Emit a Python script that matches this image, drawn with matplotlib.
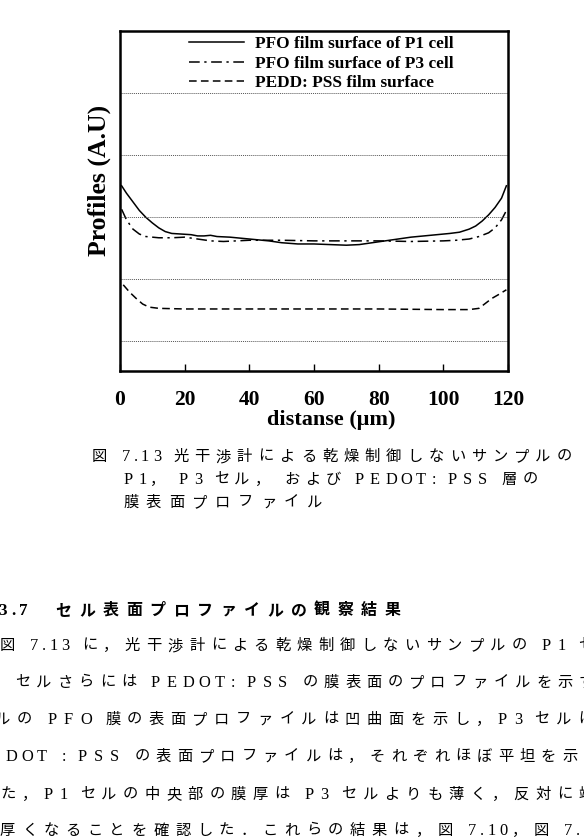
import numpy as np
import matplotlib
matplotlib.use('Agg')
import matplotlib.pyplot as plt

# profile data
x_p1 = [0.5, 2, 4, 6, 8, 10, 12, 14, 16, 19, 22, 24, 26, 28, 30, 34, 38, 42, 46, 50,
        55, 60, 65, 70, 74, 78, 82, 86, 90, 94, 98, 102, 105, 108, 110, 112, 114, 116, 118, 119.5]
y_p1 = [2.5, 2.38, 2.24, 2.1, 1.99, 1.9, 1.82, 1.76, 1.73, 1.72, 1.71, 1.69, 1.69, 1.7, 1.68, 1.67, 1.65, 1.63, 1.61, 1.58,
        1.56, 1.56, 1.55, 1.54, 1.55, 1.58, 1.61, 1.64, 1.67, 1.69, 1.71, 1.73, 1.75, 1.8, 1.85, 1.93, 2.03, 2.15, 2.3, 2.5]

x_p3 = [0.5, 2, 4, 6, 8, 12, 16, 20, 24, 28, 32, 36, 40, 50, 60, 70, 80, 90, 100, 104, 108, 111, 114, 116, 118, 119.5]
y_p3 = [2.12, 1.95, 1.8, 1.72, 1.68, 1.66, 1.66, 1.67, 1.64, 1.61, 1.6, 1.61, 1.62, 1.62, 1.61, 1.61, 1.61, 1.6, 1.61, 1.62,
        1.64, 1.68, 1.74, 1.82, 1.95, 2.1]

x_pe = [1, 3, 5, 7, 9, 12, 20, 40, 60, 80, 100, 108, 111, 113, 115, 117, 119.5]
y_pe = [0.9, 0.78, 0.68, 0.59, 0.54, 0.52, 0.51, 0.51, 0.51, 0.51, 0.5, 0.5, 0.52, 0.6, 0.68, 0.74, 0.82]

labels = ['PFO film surface of P1 cell', 'PFO film surface of P3 cell', 'PEDD: PSS film surface']
xticks = [0, 20, 40, 60, 80, 100, 120]
grid_y = [0, 1, 2, 3, 4]

caption = [
    (92, 578, 457, '図 7.13 光干渉計による乾燥制御しないサンプルの'),
    (123, 543, 480, 'P1， P3 セル， および PEDOT: PSS 層の'),
    (123, 330, 503, '膜表面プロファイル'),
]
heading = (-2, 408, 611, '3.7　セル表面プロファイルの観察結果')
body = [
    (0, 600, 646, '図 7.13 に，光干渉計による乾燥制御しないサンプルの P1 セ'),
    (15, 600, 683, 'セルさらには PEDOT: PSS の膜表面のプロファイルを示す'),
    (-5, 600, 720, 'ルの PFO 膜の表面プロファイルは凹曲面を示し，P3 セルは'),
    (5, 605, 757, 'DOT : PSS の表面プロファイルは，それぞれほぼ平坦を示し'),
    (0, 600, 795, 'た，P1 セルの中央部の膜厚は P3 セルよりも薄く，反対に端'),
    (0, 596, 831, '厚くなることを確認した．これらの結果は，図 7.10，図 7.1'),
]

W, H = 584, 838
fig = plt.figure(figsize=(W / 100, H / 100), dpi=100)
ax = fig.add_axes([120 / W, 1 - 371.5 / H, 388 / W, 340.5 / H])

ax.plot(x_p1, y_p1, color='black', lw=1.1, label=labels[0])
ax.plot(x_p3, y_p3, color='black', lw=1.1, linestyle=(0, (7, 3, 1.5, 3)), label=labels[1])
ax.plot(x_pe, y_pe, color='black', lw=1.1, linestyle=(0, (5, 2.8)), label=labels[2])

for g in grid_y:
    ax.axhline(g, color='#555555', lw=0.7, linestyle=(0, (1, 1)))

ax.set_xlim(0, 120)
ax.set_ylim(-0.5, 5.0)
ax.set_xticks(xticks)
ax.set_yticks([])
ax.tick_params(axis='x', direction='in', length=5, width=1, pad=13)
for lbl in ax.get_xticklabels():
    lbl.set_fontfamily('Liberation Serif')
    lbl.set_fontweight('bold')
    lbl.set_fontsize(15.5)
for s in ax.spines.values():
    s.set_linewidth(1.8)

ax.set_xlabel('distanse (μm)', fontfamily='Liberation Serif', fontweight='bold', fontsize=16)
ax.xaxis.set_label_coords(0.545, -0.114)
ax.set_ylabel('Profiles (A.U)', fontfamily='Liberation Serif', fontweight='bold', fontsize=18.5)
ax.yaxis.set_label_coords(-0.022, 0.56)

leg = ax.legend(loc='upper left', bbox_to_anchor=(0.178, 0.985), frameon=False,
                prop={'family': 'Liberation Serif', 'weight': 'bold', 'size': 12.4},
                handlelength=3.2, handletextpad=0.6, labelspacing=0.2,
                borderpad=0, borderaxespad=0)


def char_weight(c):
    if ord(c) > 0x2E80:
        return 1.0
    if c == ' ':
        return 0.4
    if c.isupper():
        return 0.75
    if c in '.,:':
        return 0.35
    return 0.55


def spaced(x0, x1, y, s, size=11, weight='normal'):
    total = sum(char_weight(c) for c in s)
    pitch = (x1 - x0) / total
    x = x0
    for c in s:
        if c.strip():
            sz = size if ord(c) > 0x2E80 else size + 0.8
            fig.text(x / W, 1 - y / H, c, ha='left', va='center', fontsize=sz,
                     fontweight=weight, family=['Liberation Serif', 'Noto Sans CJK JP'])
        x += char_weight(c) * pitch


for x0, x1, y, s in caption:
    spaced(x0, x1, y, s, size=11)
spaced(*heading, size=11.5, weight='bold')
for x0, x1, y, s in body:
    spaced(x0, x1, y, s, size=11)

fig.savefig('out.png', dpi=100)
plt.close(fig)
